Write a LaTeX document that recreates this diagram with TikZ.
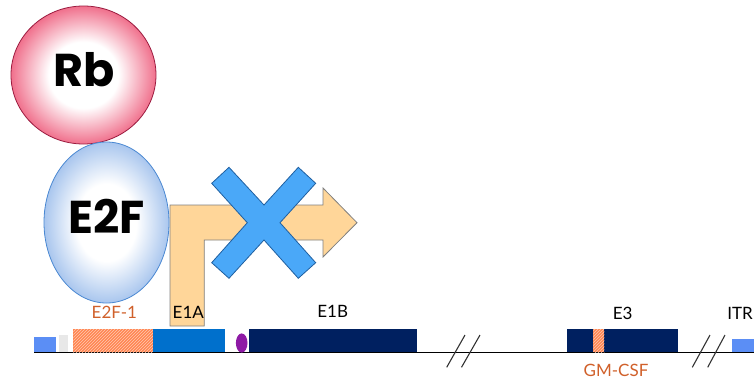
\documentclass[tikz,border=0pt]{standalone}
\usepackage{fontspec}
\setmainfont{Lato}
\newfontfamily\headfont{Poppins}
\usetikzlibrary{shapes.geometric,patterns}

\definecolor{rbpink}{HTML}{F0708C}
\definecolor{rbedge}{HTML}{9B1B3F}
\definecolor{efblue}{HTML}{A9C6EE}
\definecolor{efedge}{HTML}{4A88D2}
\definecolor{arrowfill}{HTML}{FFD699}
\definecolor{arrowedge}{HTML}{808080}
\definecolor{crossfill}{HTML}{4AA8F8}
\definecolor{crossedge}{HTML}{1F5FA0}
\definecolor{itrblue}{HTML}{5B8EF5}
\definecolor{ealight}{HTML}{E8E8E8}
\definecolor{eablue}{HTML}{0070CC}
\definecolor{navy}{HTML}{002060}
\definecolor{purp}{HTML}{8E1AA5}
\definecolor{hatchorange}{HTML}{FF8652}
\definecolor{labelorange}{HTML}{D0602A}
\definecolor{baseline}{HTML}{555555}

\pgfdeclareradialshading{rbshade}{\pgfpoint{0bp}{0bp}}{color(0bp)=(white); color(12bp)=(white); color(25bp)=(rbpink); color(50bp)=(rbpink)}
\pgfdeclareradialshading{efshade}{\pgfpoint{0bp}{0bp}}{color(0bp)=(white); color(12bp)=(white); color(25bp)=(efblue); color(50bp)=(efblue)}

\tikzset{
  protein/.style={ellipse, inner sep=0pt, line width=0.8pt},
  bigtext/.style={font=\headfont\bfseries\fontsize{46}{46}\selectfont, inner sep=0pt},
  genelabel/.style={font=\fontsize{17}{17}\selectfont, inner sep=0pt},
  orangelabel/.style={genelabel, text=labelorange},
  breakmark/.style={draw=black!80, line width=1.1pt},
  hatched/.style={pattern=north east lines, pattern color=white!55!hatchorange}
}

\begin{document}
\begin{tikzpicture}[x=1pt,y=-1pt]
\useasboundingbox (0,0) rectangle (754,381);

% genome backbone
\draw[baseline, line width=1.3pt] (34,352.7) -- (754,352.7);

% gene segments
\fill[itrblue] (34.3,336.7) rectangle (56,352);
\fill[ealight] (59.3,335) rectangle (68.3,352);
\fill[hatchorange] (73.3,329.3) rectangle (153.3,352);
\fill[hatched] (73.3,329.3) rectangle (153.3,352);
\fill[eablue] (153.3,329.3) rectangle (225,352);
\fill[purp] (241.7,343) ellipse [x radius=5.8, y radius=9.6];
\fill[navy] (248.5,328.8) rectangle (416.7,352);
\fill[navy] (566.7,329.3) rectangle (677.7,352);
\fill[hatchorange] (593.3,329.3) rectangle (604.3,352);
\fill[hatched] (593.3,329.3) rectangle (604.3,352);
\fill[itrblue] (731.7,339) rectangle (756,352);

% breaks in the backbone
\draw[breakmark] (446.7,367.3) -- (465,335);
\draw[breakmark] (461.5,367.3) -- (480,335);
\draw[breakmark] (692.3,367.3) -- (710,335);
\draw[breakmark] (707.7,367.3) -- (725,335);

% transcription start arrow
\draw[fill=arrowfill, draw=arrowedge, line width=0.8pt]
  (170,326) -- (170,205) -- (323,205) -- (323,188) -- (357,222.7)
  -- (323,257) -- (323,240) -- (204.3,240) -- (204.3,326) -- cycle;

% blocked transcription
\draw[fill=crossfill, draw=crossedge, line width=0.8pt, line join=miter]
  (229,167.3) -- (264,205) -- (298.3,167.3) -- (315.7,183.3) -- (280,222.7)
  -- (315.7,262.7) -- (298.3,278.3) -- (264,240) -- (229,278.3)
  -- (211.7,262.7) -- (247.3,222.7) -- (211.7,183.3) -- cycle;

% proteins
\node[protein, draw=rbedge, shading=rbshade, minimum width=145pt, minimum height=138pt] (rb) at (83.5,75) {};
\node[protein, draw=efedge, shading=efshade, minimum width=125pt, minimum height=161pt] (e2f) at (106.5,222.5) {};
\node[bigtext] (rbtext) at (84,69.5) {Rb};
\node[bigtext] (e2ftext) at (106.5,216) {E2F};

% labels
\node[orangelabel] (lblbind) at (114.3,312) {E2F-1};
\node[genelabel] (lble1a) at (188.3,312) {E1A};
\node[genelabel] (lble1b) at (332.7,311) {E1B};
\node[genelabel] (lble3) at (622.7,313) {E3};
\node[orangelabel] (lblgm) at (616,370) {GM-CSF};
\node[genelabel, anchor=east] (lblitr) at (753,313) {ITR};
\end{tikzpicture}
\end{document}
